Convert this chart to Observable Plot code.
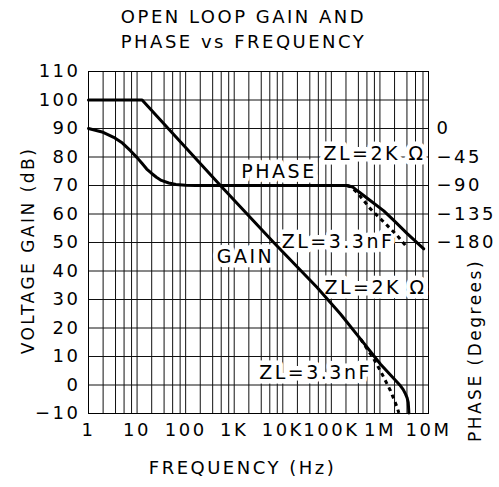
<!DOCTYPE html>
<html><head><meta charset="utf-8">
<script src="https://cdn.jsdelivr.net/npm/d3@7"></script>
<script src="https://cdn.jsdelivr.net/npm/@observablehq/plot@0.6"></script>
<style>
body{margin:0;background:#fff}
svg text{letter-spacing:2.5px}
svg text.note{letter-spacing:1px}
svg text.title{letter-spacing:3px}
</style>
</head><body><div id="chart"></div>
<script>
// ---- tick definitions ----
const freqTicks = [1, 10, 100, 1e3, 1e4, 1e5, 1e6, 1e7];
const freqTickLabels = ["1", "10", "100", "1K", "10K", "100K", "1M", "10M"];
const gridSteps = [2, 3.6, 5.4, 7.7];
const gainTicks = [-10, 0, 10, 20, 30, 40, 50, 60, 70, 80, 90, 100, 110];
const phaseTicks = [0, -45, -90, -135, -180];
const phaseTickLabels = ["0", "\u221245", "\u221290", "\u2212135", "\u2212180"];

// ---- gain, ZL = 2K ohm (solid) ----
const gainFreq = [1, 12.7, 520, 6500, 51000, 154000, 400000, 1.03e6, 2.65e6, 3.02e6, 3.37e6, 3.63e6, 3.82e6, 3.89e6, 3.94e6];
const gainDb   = [100, 100, 70, 50, 34.2, 24.9, 16.1, 7.3, -0.3, -1.6, -3.2, -4.5, -6.1, -8.0, -9.8];
// ---- gain, ZL = 3.3nF (dashed) ----
const gainCFreq = [400000, 748000, 1.11e6, 1.65e6, 2.27e6, 2.45e6];
const gainCDb   = [16.1, 9.1, 3.8, -2.0, -7.9, -9.8];
// ---- phase, ZL = 2K ohm (solid) ----
const phaseFreq = [1, 2, 3.3, 5, 7.3, 10, 12.6, 15.8, 20, 25, 31.6, 45, 63, 100, 158, 209000, 251000, 282000, 339000, 640000, 1.2e6, 1.93e6, 3.65e6, 8.0e6];
const phaseDeg  = [0, -6, -14, -23, -35, -46, -55, -64, -71, -77, -82, -86, -88.5, -89.7, -90, -90, -91.5, -93, -98, -114, -130, -145, -166, -190];
// ---- phase, ZL = 3.3nF (dashed) ----
const phaseCFreq = [209000, 251000, 339000, 640000, 1.41e6, 2.27e6, 3.65e6];
const phaseCDeg  = [-90, -92, -101, -127, -153, -169, -188];

// ---- annotations ----
const noteText = ["ZL=2K \u03A9", "PHASE", "ZL=3.3nF", "GAIN", "ZL=2K \u03A9", "ZL=3.3nF"];
const noteFreq = [7.74e5, 8360, 1.37e5, 1710, 8.1e5, 47200];
const noteDb   = [81.0, 74.7, 50.1, 45.0, 34.1, 4.1];

const titleLines = ["OPEN LOOP GAIN AND", "PHASE vs FREQUENCY"];
const xLabel = "FREQUENCY (Hz)";
const yLabel = "VOLTAGE GAIN (dB)";
const y2Label = "PHASE (Degrees)";

// phase degrees -> position on the gain axis (0° at 90 dB, 45° per 10 dB)
const phaseToY = d => 90 + d / 4.5;

const zip = (xs, ys) => xs.map((x, i) => ({x, y: ys[i]}));
const gain = zip(gainFreq, gainDb);
const gainC = zip(gainCFreq, gainCDb);
const phase = zip(phaseFreq, phaseDeg.map(phaseToY));
const phaseC = zip(phaseCFreq, phaseCDeg.map(phaseToY));
const notes = noteText.map((t, i) => ({t, x: noteFreq[i], y: noteDb[i]}));

const gridFreqs = [];
for (let e = 0; e < 7; e++) {
  const dec = Math.pow(10, e);
  if (e > 0) gridFreqs.push(dec);
  for (const s of gridSteps) gridFreqs.push(s * dec);
}

const font = "DejaVu Sans";
const lbl = {textAnchor: "middle", lineAnchor: "middle", fill: "black"};
const chart = Plot.plot({
  width: 499, height: 487,
  marginLeft: 88, marginRight: 71, marginTop: 71, marginBottom: 74,
  x: {type: "log", domain: [1, 1e7]},
  y: {domain: [-10, 110]},
  style: {fontFamily: font, fontSize: "18px", color: "black", background: "white"},
  marks: [
    Plot.ruleX(gridFreqs, {stroke: "#111", strokeWidth: 1}),
    Plot.ruleY(gainTicks, {stroke: "#111", strokeWidth: 1}),
    Plot.frame({stroke: "black", strokeWidth: 1}),
    Plot.axisX({ticks: freqTicks, tickSize: 0, tickPadding: 10, label: null,
      tickFormat: d => freqTickLabels[freqTicks.indexOf(d)], fontSize: 18}),
    Plot.axisY({ticks: gainTicks, tickSize: 0, tickPadding: 8, label: null, anchor: "left", fontSize: 18,
      tickFormat: d => String(d).replace("-", "\u2212")}),
    Plot.axisY({ticks: phaseTicks.map(phaseToY), tickSize: 0, tickPadding: 8, label: null, anchor: "right", fontSize: 18,
      tickFormat: d => phaseTickLabels[phaseTicks.map(phaseToY).indexOf(d)]}),
    Plot.text(notes, {x: "x", y: "y", text: "t", fontSize: 19, fill: "black", stroke: "white", strokeWidth: 9, className: "note"}),
    Plot.line(gain, {x: "x", y: "y", stroke: "black", strokeWidth: 3}),
    Plot.line(gainC, {x: "x", y: "y", stroke: "black", strokeWidth: 3, strokeDasharray: "4,4", strokeLinecap: "butt"}),
    Plot.line(phase, {x: "x", y: "y", stroke: "black", strokeWidth: 3}),
    Plot.line(phaseC, {x: "x", y: "y", stroke: "black", strokeWidth: 3, strokeDasharray: "4,4", strokeLinecap: "butt"}),
    Plot.text([titleLines[0]], {...lbl, frameAnchor: "top", dx: -15, dy: -54, fontSize: 18, className: "title"}),
    Plot.text([titleLines[1]], {...lbl, frameAnchor: "top", dx: -15, dy: -29, fontSize: 18, className: "title"}),
    Plot.text([xLabel], {...lbl, frameAnchor: "bottom", dx: -16, dy: 55, fontSize: 18}),
    Plot.text([yLabel], {...lbl, frameAnchor: "left", dx: -60, dy: 8, rotate: -90, fontSize: 17}),
    Plot.text([y2Label], {...lbl, frameAnchor: "right", dx: 47, dy: 108, rotate: -90, fontSize: 17})
  ]
});
document.getElementById("chart").appendChild(chart);
</script>
</body></html>
